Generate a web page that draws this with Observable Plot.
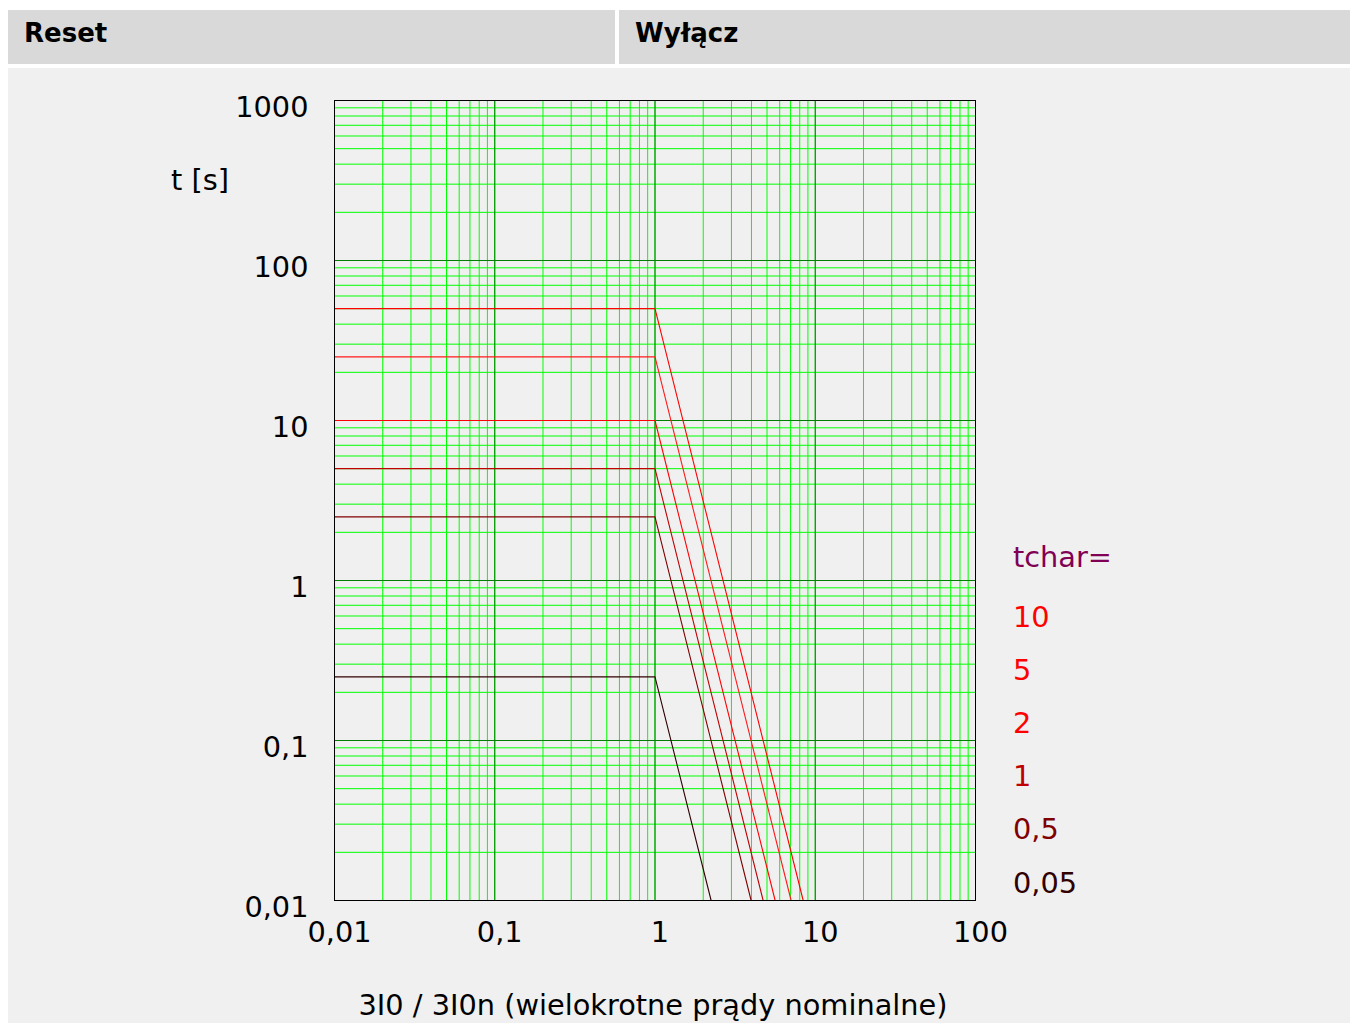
<!DOCTYPE html>
<html><head><meta charset="utf-8">
<script src="https://cdn.jsdelivr.net/npm/d3@7"></script>
<script src="https://cdn.jsdelivr.net/npm/@observablehq/plot@0.6"></script>
<style>
body{margin:0;background:#fff;font-family:"DejaVu Sans",sans-serif;}
#page{position:relative;width:1352px;height:1023px;overflow:hidden;}
.hdr{position:absolute;top:10px;height:54px;background:#d9d9d9;font-weight:bold;font-size:26px;line-height:46px;box-sizing:border-box;padding-left:16px;color:#000;}
#panel{position:absolute;left:8px;top:68px;width:1342px;height:955px;background:#f0f0f0;}
#chart{position:absolute;left:8px;top:68px;}
.lbl{position:absolute;font-size:28.8px;white-space:nowrap;line-height:29px;height:29px;color:#000;}
</style></head>
<body>
<div id="page">
  <div class="hdr" style="left:8px;width:607px;">Reset</div>
  <div class="hdr" style="left:619px;width:731px;">Wyłącz</div>
  <div id="panel"></div>
  <div id="chart"></div>
  <div class="lbl" style="left:171px;top:166px;">t [s]</div>
  <div class="lbl" style="left:253px;top:991px;width:800px;text-align:center;">3I0 / 3I0n (wielokrotne prądy nominalne)</div>
  <div id="legend"></div>
</div>
<script>
// ---- data ----
const tcharLabels = ["10", "5", "2", "1", "0,5", "0,05"];
const tcharValues = [10, 5, 2, 1, 0.5, 0.05];
const flatTimes   = [50, 25, 10, 5, 2.5, 0.25];      // t [s] for I below 1
const kneeCurrent = 1;                                // knee at I = 1
const startCurrent = 0.01;                            // curves start at left edge
const endCurrents = [8.41, 7.07, 5.62, 4.73, 3.98, 2.24]; // I where curve reaches 0.01 s
const endTime = 0.01;
const curveColors = ["#ff0000", "#ff1a1a", "#ff0000", "#c00000", "#800000", "#300000"];
const legendColors = ["#ff0000", "#ff0000", "#ff0000", "#c00000", "#800000", "#300000"];
const legendTitle = "tchar=";
const xTicks = [0.01, 0.1, 1, 10, 100];
const yTicks = [0.01, 0.1, 1, 10, 100, 1000];
const xTickLabels = ["0,01", "0,1", "1", "10", "100"];
const yTickLabels = ["0,01", "0,1", "1", "10", "100", "1000"];

const rows = [];
tcharValues.forEach((tc, i) => {
  rows.push({tchar: tc, I: startCurrent, t: flatTimes[i], k: i});
  rows.push({tchar: tc, I: kneeCurrent, t: flatTimes[i], k: i});
  rows.push({tchar: tc, I: endCurrents[i], t: endTime, k: i});
});

const lineMarks = tcharValues.map((tc, i) =>
  Plot.line(rows.filter(r => r.k === i), {x: "I", y: "t", stroke: curveColors[i], strokeWidth: 1.1})
);

const chart = Plot.plot({
  width: 1342,
  height: 955,
  marginLeft: 326,
  marginTop: 32,
  marginRight: 375,
  marginBottom: 123,
  style: {background: "transparent", fontSize: "28.8px", fontFamily: "DejaVu Sans, sans-serif", color: "#000"},
  x: {type: "log", domain: [0.01, 100]},
  y: {type: "log", domain: [0.01, 1000]},
  marks: [
    Plot.gridX({ticks: 40, stroke: "#00ff00", strokeOpacity: 1, strokeWidth: 1}),
    Plot.gridY({ticks: 40, stroke: "#00ff00", strokeOpacity: 1, strokeWidth: 1}),
    Plot.gridX({ticks: xTicks, stroke: "#008000", strokeOpacity: 1, strokeWidth: 1}),
    Plot.gridY({ticks: yTicks, stroke: "#008000", strokeOpacity: 1, strokeWidth: 1}),
    ...lineMarks,
    Plot.frame({stroke: "#000", strokeWidth: 1}),
    Plot.axisX({ticks: xTicks, tickFormat: d => xTickLabels[xTicks.indexOf(d)], tickSize: 0, tickPadding: 21, dx: 5, label: null, fill: "#000"}),
    Plot.axisY({ticks: yTicks, tickFormat: d => yTickLabels[yTicks.indexOf(d)], tickSize: 0, tickPadding: 26, dy: 7, label: null, fill: "#000"})
  ]
});
document.getElementById("chart").appendChild(chart);

// legend
const legend = document.getElementById("legend");
const addLbl = (text, color, top) => {
  const d = document.createElement("div");
  d.className = "lbl";
  d.style.left = "1013px";
  d.style.top = top + "px";
  d.style.color = color;
  d.textContent = text;
  legend.appendChild(d);
};
addLbl(legendTitle, "#800055", 543);
tcharLabels.forEach((lab, i) => addLbl(lab, legendColors[i], 603 + i * 53.1));
</script>
</body></html>
